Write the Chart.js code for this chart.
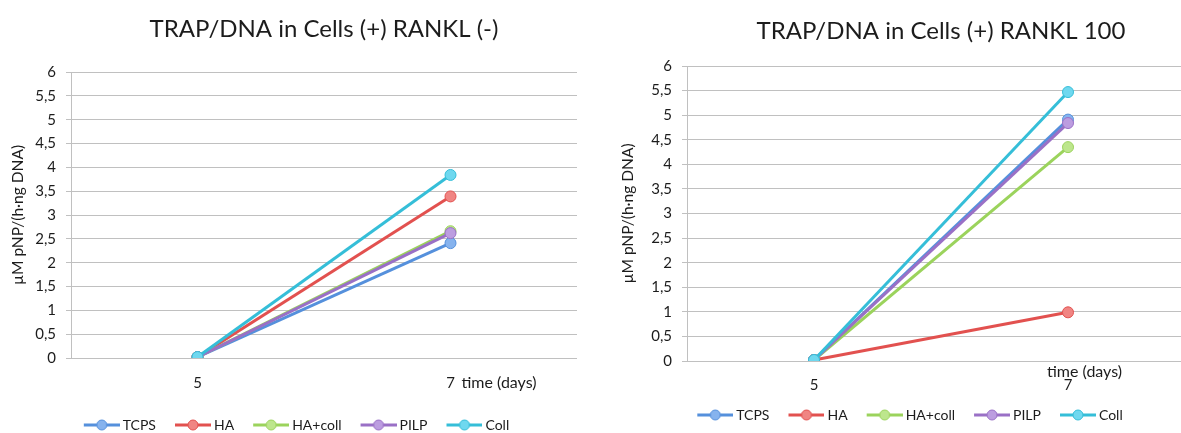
<!DOCTYPE html>
<html>
<head>
<meta charset="utf-8">
<script src="https://cdn.jsdelivr.net/npm/chart.js@4/dist/chart.umd.min.js"></script>
<style>
  html, body { margin: 0; padding: 0; background: #fff; overflow: hidden; width: 1181px; height: 433px; }
  .wrap { position: absolute; top: 0; }
  #leftWrap { left: 0; width: 596px; height: 460px; }
  #rightWrap { left: 590px; width: 643px; height: 460px; }
</style>
</head>
<body>
<div id="leftWrap" class="wrap"><canvas id="chartMinus" width="596" height="460"></canvas></div>
<div id="rightWrap" class="wrap"><canvas id="chart100" width="643" height="460"></canvas></div>
<script>
// Time points (days)
const days = ['5', '7'];
const seriesNames = ['TCPS', 'HA', 'HA+coll', 'PILP', 'Coll'];
const yTickLabels = ['0', '0,5', '1', '1,5', '2', '2,5', '3', '3,5', '4', '4,5', '5', '5,5', '6'];

// TRAP/DNA, RANKL (-)
const tcpsMinus   = [0.02, 2.41];
const haMinus     = [0.02, 3.39];
const haCollMinus = [0.02, 2.66];
const pilpMinus   = [0.02, 2.62];
const collMinus   = [0.02, 3.84];

// TRAP/DNA, RANKL 100
const tcps100   = [0.02, 4.91];
const ha100     = [0.02, 0.99];
const haColl100 = [0.02, 4.35];
const pilp100   = [0.02, 4.84];
const coll100   = [0.02, 5.47];

const lineColors  = ['#5590dc', '#e2514f', '#9bd35c', '#9a70c6', '#35bed8'];
const pointColors = ['#86b3ee', '#f08583', '#bde68d', '#bc9de0', '#6fd8ef'];
const FONT = 'Lato, "Open Sans", sans-serif';
const TEXT = '#1c1c1c';
const GRID = '#c0c0c0';

// legend marker box width; the icon image is a bit wider and carries the
// line-with-dot glyph at its right end, so the glyph sits close to the text
const LEGEND_BOX = 39;
const legendIcons = lineColors.map((c, i) => {
  const cv = document.createElement('canvas');
  cv.width = LEGEND_BOX + 8; cv.height = 14;
  const g = cv.getContext('2d');
  const x0 = cv.width - 36;
  g.strokeStyle = c; g.lineWidth = 3;
  g.beginPath(); g.moveTo(x0, 7); g.lineTo(x0 + 36, 7); g.stroke();
  g.beginPath(); g.arc(x0 + 18, 7, 5, 0, Math.PI * 2);
  g.fillStyle = pointColors[i]; g.fill();
  g.lineWidth = 1; g.strokeStyle = c; g.stroke();
  return cv;
});

// "time (days)" note next to the last category
const axisNote = {
  id: 'axisNote',
  afterDraw(chart, args, opts) {
    const x = chart.scales.x;
    const ctx = chart.ctx;
    ctx.save();
    ctx.font = '16px ' + FONT;
    ctx.fillStyle = TEXT;
    ctx.textAlign = 'left';
    ctx.textBaseline = 'middle';
    ctx.fillText(opts.text, x.getPixelForValue(days.length - 1) + opts.dx, chart.chartArea.bottom + opts.dy);
    ctx.restore();
  }
};

function makeDatasets(values) {
  return values.map((v, i) => ({
    label: seriesNames[i],
    data: v,
    borderColor: lineColors[i],
    backgroundColor: pointColors[i],
    borderWidth: 3,
    pointRadius: 5.5,
    pointBorderWidth: 1,
    pointBorderColor: lineColors[i],
    pointBackgroundColor: pointColors[i],
    tension: 0,
    order: values.length - i
  }));
}

function makeChart(id, titleText, values, cfg) {
  return new Chart(document.getElementById(id), {
    type: 'line',
    data: { labels: days, datasets: makeDatasets(values) },
    plugins: [axisNote],
    options: {
      responsive: false,
      animation: false,
      layout: { padding: cfg.padding },
      plugins: {
        tooltip: { enabled: false },
        title: {
          display: true,
          text: titleText,
          fullSize: false,
          color: TEXT,
          font: { family: FONT, size: 24, weight: 'normal' },
          padding: cfg.titlePadding
        },
        legend: {
          position: 'bottom',
          labels: {
            usePointStyle: true,
            pointStyleWidth: LEGEND_BOX,
            padding: 12,
            color: TEXT,
            font: { family: FONT, size: 14 },
            sort: (a, b) => a.datasetIndex - b.datasetIndex,
            generateLabels(chart) {
              const items = Chart.defaults.plugins.legend.labels.generateLabels(chart);
              items.forEach(it => { it.pointStyle = legendIcons[it.datasetIndex]; });
              return items;
            }
          }
        },
        axisNote: cfg.note
      },
      scales: {
        x: {
          type: 'category',
          offset: true,
          grid: { display: false, drawTicks: false },
          border: { display: false },
          ticks: { color: TEXT, font: { family: FONT, size: 15 }, padding: cfg.xTickPadding, maxRotation: 0 },
          afterFit: s => { s.height = cfg.xHeight; }
        },
        y: {
          min: 0,
          max: 6,
          ticks: {
            stepSize: 0.5,
            color: TEXT,
            padding: 10,
            font: { family: FONT, size: 15 },
            callback: (v, i) => yTickLabels[i]
          },
          grid: { color: GRID, lineWidth: 1, tickLength: 5, drawTicks: true },
          border: { display: true, color: GRID },
          title: {
            display: true,
            text: 'µM pNP/(h·ng DNA)',
            color: TEXT,
            font: { family: FONT, size: 15.5 },
            padding: { top: cfg.yTitlePad, bottom: 0 }
          },
          afterFit: s => { s.width = cfg.yWidth; }
        }
      }
    }
  });
}

function drawAll() {
  makeChart('chartMinus', 'TRAP/DNA in Cells (+) RANKL (-)',
    [tcpsMinus, haMinus, haCollMinus, pilpMinus, collMinus],
    {
      padding: { left: 9, right: 19, top: 0, bottom: 18 },
      yWidth: 62, yTitlePad: -0.3,
      titlePadding: { top: 14.6, bottom: 28.6 },
      xHeight: 48, xTickPadding: 16.5,
      note: { text: 'time (days)', dx: 11, dy: 25 }
    });
  makeChart('chart100', 'TRAP/DNA in Cells (+) RANKL 100',
    [tcps100, ha100, haColl100, pilp100, coll100],
    {
      padding: { left: 28, right: 38, top: 0, bottom: 28 },
      yWidth: 69, yTitlePad: 0.7,
      titlePadding: { top: 16.6, bottom: 20.6 },
      xHeight: 35, xTickPadding: 15.5,
      note: { text: 'time (days)', dx: -21, dy: 11 }
    });
}

if (document.fonts && document.fonts.load) {
  Promise.all([document.fonts.load('14px Lato'), document.fonts.load('24px Lato')]).then(drawAll, drawAll);
} else {
  drawAll();
}
</script>
</body>
</html>
